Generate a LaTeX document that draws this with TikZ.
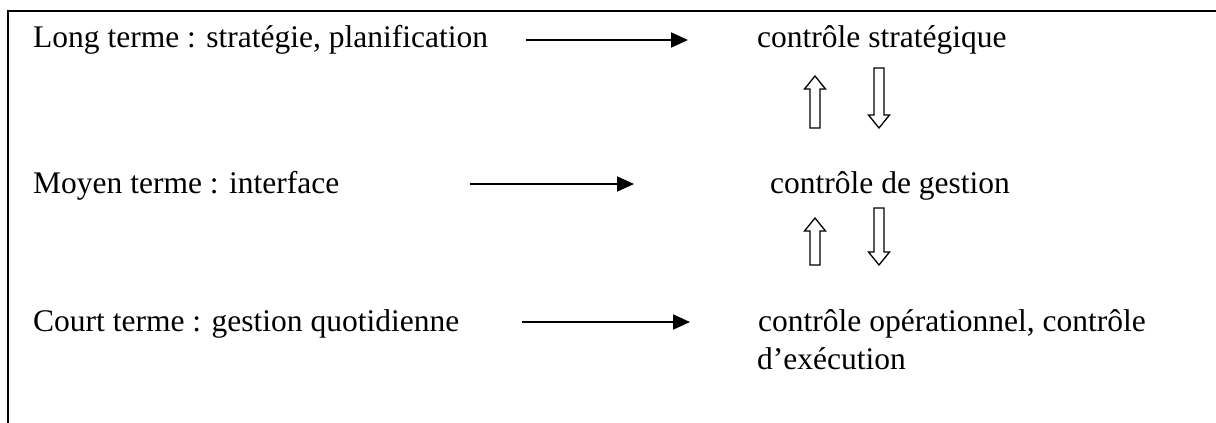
\documentclass[tikz,border=0pt]{standalone}
\usepackage{fontspec}
\setmainfont{Liberation Serif}
\usetikzlibrary{arrows.meta}
\begin{document}
\begin{tikzpicture}[x=1pt,y=-1pt,
  lbl/.style={anchor=base west, inner sep=0pt, font=\fontsize{31.5}{38}\selectfont},
  link/.style={line width=2pt, -{Triangle[length=17pt,width=15pt]}},
  hollow/.style={draw, line width=1.3pt, fill=white, line join=miter}]
\useasboundingbox (0,0) rectangle (1216,423);

% open frame: top and left edges only
\draw[line width=2pt] (1216,11) -- (8,11) -- (8,423);

% time horizons and their kinds of control
\node[lbl] (long)  at (33,47)  {Long terme : stratégie, planification};
\node[lbl] (strat) at (757,47) {contrôle stratégique};
\node[lbl] (moyen) at (33,193) {Moyen terme : interface};
\node[lbl] (gest)  at (770,193) {contrôle de gestion};
\node[lbl] (court) at (33,331) {Court terme : gestion quotidienne};
\node[lbl] (oper)  at (758,331) {contrôle opérationnel, contrôle};
\node[lbl] (exec)  at (757,369) {d’exécution};

% horizon -> control arrows
\coordinate (l1) at (526,40);  \coordinate (r1) at (688,40);
\coordinate (l2) at (470,184); \coordinate (r2) at (634,184);
\coordinate (l3) at (522,322); \coordinate (r3) at (690,322);
\draw[link] (l1) -- (r1);
\draw[link] (l2) -- (r2);
\draw[link] (l3) -- (r3);

% hollow block arrows between control levels
\newcommand\blockup[3]{% centre x, tip y, base y
  \draw[hollow] (#1-5,#3) -- (#1-5,#2+13) -- (#1-10.5,#2+13) -- (#1,#2)
    -- (#1+10.5,#2+13) -- (#1+5,#2+13) -- (#1+5,#3) -- cycle;}
\newcommand\blockdown[3]{% centre x, base y, tip y
  \draw[hollow] (#1-5,#2) -- (#1-5,#3-13) -- (#1-10.5,#3-13) -- (#1,#3)
    -- (#1+10.5,#3-13) -- (#1+5,#3-13) -- (#1+5,#2) -- cycle;}
\blockup{815}{76}{128}
\blockdown{879}{68}{128}
\blockup{815}{218}{265}
\blockdown{879}{208}{265}
\end{tikzpicture}
\end{document}
